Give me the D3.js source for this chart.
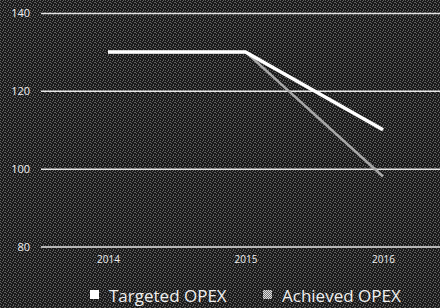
<!DOCTYPE html>
<html><head><meta charset="utf-8">
<script src="https://cdn.jsdelivr.net/npm/d3@7"></script>
<style>html,body{margin:0;padding:0;background:#222;}svg{display:block;}</style>
</head><body>
<script>
const years = ["2014", "2015", "2016"];
const targeted = [130, 130, 110];
const achieved = [130, 130, 98];
const yTicks = [80, 100, 120, 140];
const seriesNames = ["Targeted OPEX", "Achieved OPEX"];

const W = 440, H = 308;
const svg = d3.select("body").append("svg").attr("width", W).attr("height", H);
const defs = svg.append("defs");
const pat = defs.append("pattern").attr("id", "noise").attr("width", 5).attr("height", 5).attr("patternUnits", "userSpaceOnUse");
pat.append("rect").attr("width", 5).attr("height", 5).attr("fill", "#1a1a1a");
[[0,0],[2,1],[4,2],[1,3],[3,4],[0,2],[3,0]].forEach(([a,b]) => pat.append("rect").attr("x", a).attr("y", b).attr("width", 1).attr("height", 1).attr("fill", "#5e5e5e"));
svg.append("rect").attr("width", W).attr("height", H).attr("fill", "url(#noise)");

const hatch = defs.append("pattern").attr("id", "hatch").attr("width", 2).attr("height", 2).attr("patternUnits", "userSpaceOnUse");
hatch.append("rect").attr("width", 2).attr("height", 2).attr("fill", "#777");
hatch.append("rect").attr("width", 1).attr("height", 1).attr("fill", "#e0e0e0");
hatch.append("rect").attr("x", 1).attr("y", 1).attr("width", 1).attr("height", 1).attr("fill", "#e0e0e0");

const x = d3.scalePoint().domain(years).range([108, 383]);
const y = d3.scaleLinear().domain([80, 140]).range([246.5, 13]);

const yAxis = svg.append("g").attr("transform", "translate(41,0)")
  .call(d3.axisLeft(y).tickValues(yTicks).tickSize(-(W - 41)).tickPadding(11));
yAxis.select(".domain").remove();
yAxis.selectAll("line").attr("stroke", "#e6e6e6").attr("stroke-width", 1.5);
yAxis.selectAll("text").attr("fill", "#f0f0f0").style("font-family", "Open Sans, sans-serif").style("font-size", "11px");

const xAxis = svg.append("g").attr("transform", "translate(0,246.5)")
  .call(d3.axisBottom(x).tickSize(0).tickPadding(9));
xAxis.select(".domain").remove();
xAxis.selectAll("text").attr("fill", "#f0f0f0").style("font-family", "Open Sans, sans-serif").style("font-size", "10px");

const line = d3.line().x((d, i) => x(years[i])).y(d => y(d));
svg.append("path").datum(achieved).attr("d", line).attr("fill", "none").attr("stroke", "#a8a8a8").attr("stroke-width", 2.5).attr("stroke-linejoin", "round");
svg.append("path").datum(targeted).attr("d", line).attr("fill", "none").attr("stroke", "#ffffff").attr("stroke-width", 3.5).attr("stroke-linejoin", "round");

const legend = svg.append("g").style("font-family", "Open Sans, sans-serif").style("font-size", "17px");
const lx = [90, 263];
const fills = ["#ffffff", "url(#hatch)"];
seriesNames.forEach((n, i) => {
  legend.append("rect").attr("x", lx[i]).attr("y", 290).attr("width", 9).attr("height", 9).attr("fill", fills[i]);
  legend.append("text").attr("x", lx[i] + 19).attr("y", 301.5).attr("fill", "#f0f0f0").text(n);
});
</script>
</body></html>
